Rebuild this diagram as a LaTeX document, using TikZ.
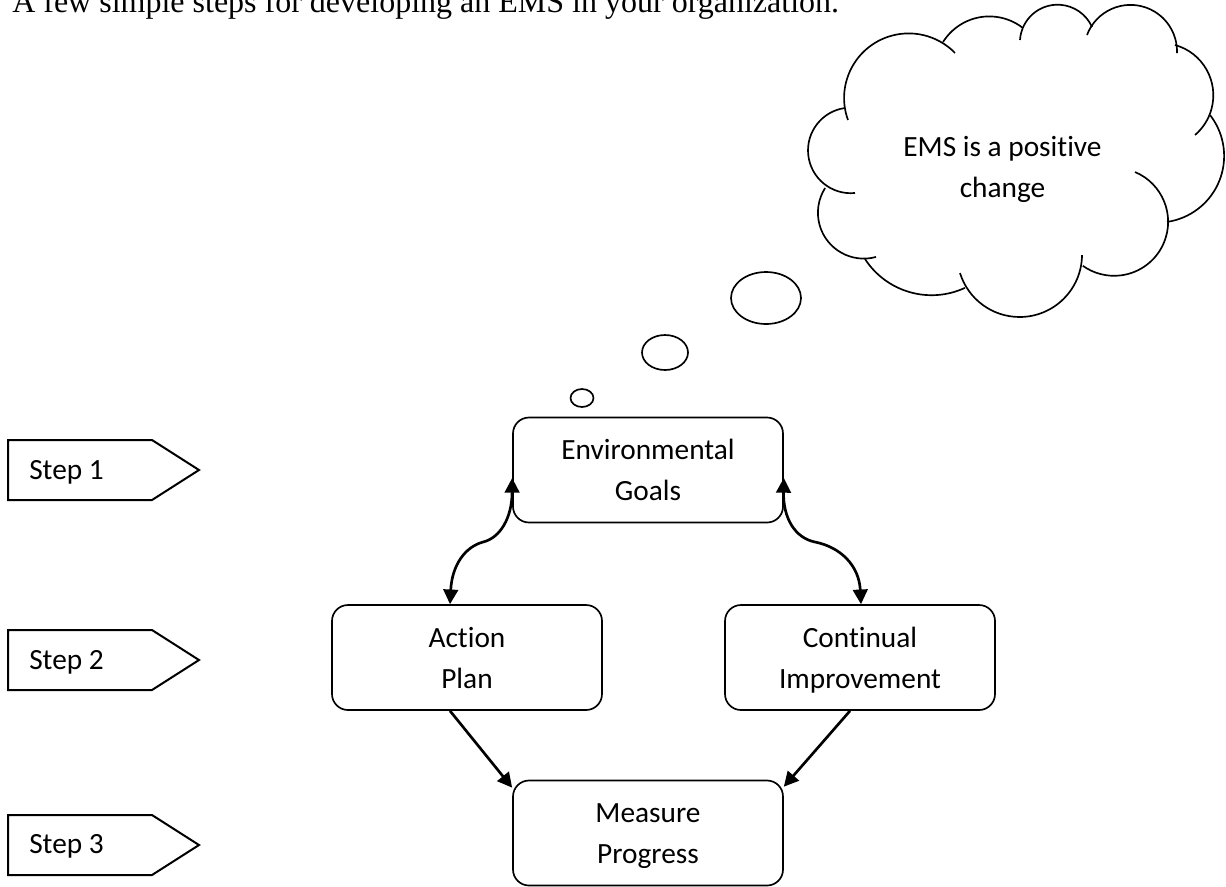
\documentclass[tikz,border=0pt]{standalone}
\usepackage{fontspec}
\setmainfont{Liberation Serif}
\newfontfamily\calfont[Ligatures={NoCommon,NoContextual}]{Carlito}
\usetikzlibrary{arrows.meta,calc}

% two struts of fixed height/depth so every two-line label sits alike
\newcommand\twolines[2]{\rule[-6pt]{0pt}{27.5pt}#1\\\rule[-6pt]{0pt}{27.5pt}#2}
% one lobe of the thought cloud: centre x, centre y, start angle, end angle, radius
\newcommand\cloudlobe[5]{\draw[cloudline] ([shift={(#1,#2)}]#3:#5) arc[start angle=#3, end angle=#4, radius=#5];}

\tikzset{
  lbl/.style={align=center, inner sep=0pt,
    font=\calfont\fontsize{22pt}{30.9pt}\selectfont},
  box/.style={lbl, draw, line width=1.25pt, rounded corners=12pt,
    minimum width=202.5pt, minimum height=78.75pt},
  tip/.tip={Triangle[length=11pt,width=11pt]},
  arr/.style={line width=2pt, -tip},
  dbl/.style={line width=2pt, tip-tip},
  stepshape/.style={line width=1.5pt, line join=miter},
  steplabel/.style={anchor=base west, inner sep=0pt,
    font=\calfont\fontsize{22pt}{26pt}\selectfont},
  cloudline/.style={line width=1.25pt},
}

\begin{document}
\begin{tikzpicture}[x=0.75pt, y=0.75pt]
\useasboundingbox (0,0) rectangle (1226,-886);

% heading
\node[anchor=base west, inner sep=0pt, font=\fontsize{24pt}{28pt}\selectfont] (title) at (12,-12)
  {A few simple steps for developing an EMS in your organization.};

% step markers
\draw[stepshape] (8,-440) -- (152,-440) -- (199,-470) -- (152,-500) -- (8,-500) -- cycle;
\node[steplabel] (s1) at (29,-479.5) {Step 1};
\draw[stepshape] (8,-630) -- (152,-630) -- (199,-660) -- (152,-690) -- (8,-690) -- cycle;
\node[steplabel] (s2) at (29,-669) {Step 2};
\draw[stepshape] (8,-815) -- (152,-815) -- (199,-845) -- (152,-875) -- (8,-875) -- cycle;
\node[steplabel] (s3) at (29,-853.5) {Step 3};

% cycle boxes
\node[box] (eg) at (648,-470)   {\twolines{Environmental}{Goals}};
\node[box] (ap) at (467,-657.5) {\twolines{Action}{Plan}};
\node[box] (ci) at (860,-657.5) {\twolines{Continual}{Improvement}};
\node[box] (mp) at (648,-833)   {\twolines{Measure}{Progress}};

% connector end points
\coordinate (egL) at ($(eg.west)+(0,-8)$);
\coordinate (egR) at ($(eg.east)+(0,-8)$);
\coordinate (apT) at ($(ap.north)+(-17,0)$);
\coordinate (ciT) at ($(ci.north)+(1,0)$);
\coordinate (apB) at ($(ap.south)+(-17,0)$);
\coordinate (ciB) at ($(ci.south)+(-10,0)$);
\coordinate (mpL) at ($(mp.north west)+(0,-8)$);
\coordinate (mpR) at ($(mp.north east)+(0,-7)$);

\draw[dbl] (apT) .. controls (452,-565) and (465,-547) .. (483,-542)
                 .. controls (500,-538) and (512,-518) .. (egL);
\draw[dbl] (ciT) .. controls (859,-565) and (840,-547) .. (815,-542)
                 .. controls (795,-538) and (783,-518) .. (egR);
\draw[arr] (apB) -- (mpL);
\draw[arr] (ciB) -- (mpR);

% thought bubbles
\draw[cloudline] (582,-398) ellipse [x radius=11.5, y radius=9];
\draw[cloudline] (665,-352.5) ellipse [x radius=23, y radius=17.5];
\draw[cloudline] (766,-298) ellipse [x radius=35, y radius=26];

% thought cloud
\cloudlobe{908.7}{-98}{199.9}{44.2}{64.6}
\cloudlobe{989.3}{-71}{147.9}{51.9}{54.6}
\cloudlobe{1057.6}{-42.4}{176.3}{24.1}{37.7}
\cloudlobe{1130.5}{-51.4}{159.3}{-2.0}{46.5}
\cloudlobe{1161.1}{-95.3}{74.6}{-49.5}{52.2}
\cloudlobe{1157.5}{-156}{38.0}{-81.8}{66.6}
\cloudlobe{1114.1}{-221.8}{67.2}{-125.4}{54}
\cloudlobe{1019.6}{-254.6}{-0.4}{-162.8}{62.4}
\cloudlobe{931.6}{-215.8}{-65.2}{-147}{79.4}
\cloudlobe{863.8}{-212.7}{-74.6}{-212.5}{45.9}
\cloudlobe{850.8}{-150.4}{275.6}{97.8}{42.8}
\node[lbl] (thought) at (1002.5,-166.3) {\twolines{EMS is a positive}{change}};
\end{tikzpicture}
\end{document}
